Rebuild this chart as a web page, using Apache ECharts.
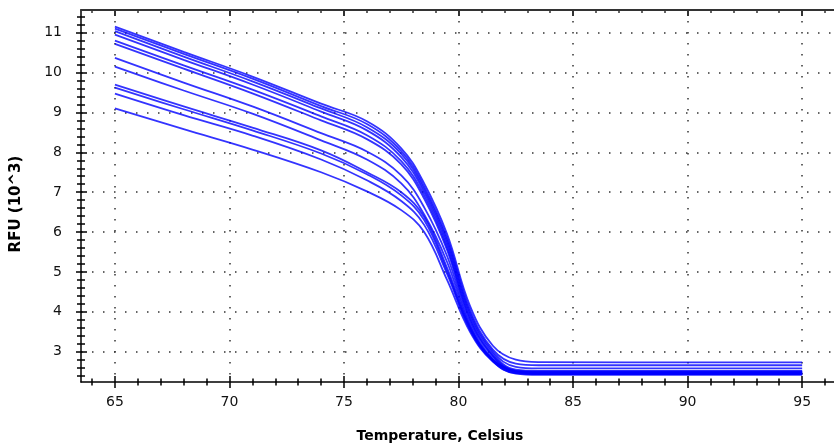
<!DOCTYPE html>
<html>
<head>
<meta charset="utf-8">
<script src="https://cdn.jsdelivr.net/npm/echarts@6/dist/echarts.min.js"></script>
<style>
  html, body { margin: 0; padding: 0; background: #fff; }
  #chart { width: 834px; height: 446px; }
</style>
</head>
<body>
<div id="chart"></div>
<script>
// ---- Data ----
const temps = [65, 68, 71, 74, 76, 77.5, 78.5, 79.5, 80.5, 81.5, 82.5, 83.5, 95];

const curveA = [11.15, 10.52, 9.90, 9.22, 8.78, 8.10, 7.22, 5.95, 4.15, 3.15, 2.80, 2.74, 2.73];
const curveB = [11.10, 10.47, 9.85, 9.16, 8.71, 8.03, 7.14, 5.85, 4.05, 3.05, 2.70, 2.66, 2.66];
const curveC = [11.04, 10.40, 9.78, 9.10, 8.63, 7.96, 7.07, 5.78, 3.98, 3.00, 2.62, 2.58, 2.58];
const curveD = [10.95, 10.32, 9.70, 9.02, 8.55, 7.88, 7.00, 5.70, 3.92, 2.95, 2.55, 2.52, 2.52];
const curveE = [10.80, 10.18, 9.57, 8.90, 8.43, 7.78, 6.92, 5.62, 3.85, 2.90, 2.52, 2.49, 2.49];
const curveF = [10.72, 10.10, 9.48, 8.80, 8.33, 7.70, 6.84, 5.55, 3.80, 2.88, 2.50, 2.47, 2.47];
const curveG = [10.37, 9.75, 9.15, 8.48, 8.02, 7.42, 6.62, 5.40, 3.72, 2.82, 2.50, 2.46, 2.46];
const curveH = [10.15, 9.55, 8.97, 8.30, 7.82, 7.22, 6.44, 5.25, 3.65, 2.78, 2.47, 2.44, 2.44];
const curveI = [9.70, 9.15, 8.62, 8.05, 7.50, 7.00, 6.38, 5.10, 3.62, 2.80, 2.52, 2.50, 2.50];
const curveJ = [9.62, 9.08, 8.55, 7.97, 7.45, 6.92, 6.30, 5.02, 3.58, 2.78, 2.50, 2.48, 2.48];
const curveK = [9.47, 8.93, 8.42, 7.82, 7.30, 6.78, 6.18, 4.95, 3.55, 2.76, 2.46, 2.44, 2.44];
const curveL = [9.10, 8.58, 8.07, 7.50, 7.02, 6.55, 6.00, 4.80, 3.50, 2.75, 2.45, 2.42, 2.42];

const curves = [curveA, curveB, curveC, curveD, curveE, curveF, curveG, curveH, curveI, curveJ, curveK, curveL];

// Tick labels
const xTicks = [65, 70, 75, 80, 85, 90, 95];
const yTicks = [3, 4, 5, 6, 7, 8, 9, 10, 11];

const xTitle = 'Temperature, Celsius';
const yTitle = 'RFU (10^3)';

// Minor tick values (every 1 °C and every 0.2 units)
const xMinor = [];
for (let t = 64; t <= 96; t++) xMinor.push(t);
const yMinor = [];
for (let k = 12; k <= 57; k++) yMinor.push(Math.round(k * 20) / 100);

// ---- Axis ranges ----
const XMIN = 63.52, XMAX = 96.39;
const YMIN = 2.24, YMAX = 11.569;

const tickFont = 'DejaVu Sans';
const dotted = { color: '#333', width: 1.5, type: [1.5, 9.5] };
const black = { color: '#000', width: 1.5 };

function xAx(opts) {
  return Object.assign({
    type: 'value', min: XMIN, max: XMAX, position: 'bottom',
    axisLine: { show: false }, axisLabel: { show: false },
    splitLine: { show: false }, axisTick: { show: false }
  }, opts);
}
function yAx(opts) {
  return Object.assign({
    type: 'value', min: YMIN, max: YMAX, position: 'left',
    axisLine: { show: false }, axisLabel: { show: false },
    splitLine: { show: false }, axisTick: { show: false }
  }, opts);
}

const chart = echarts.init(document.getElementById('chart'), null, { renderer: 'canvas' });

const option = {
  animation: false,
  backgroundColor: '#fff',
  grid: { left: 81, top: 10, right: -2, bottom: 64 },
  xAxis: [
    xAx({
      axisLine: { show: true, onZero: false, lineStyle: black },
      axisTick: { show: true, length: 6, customValues: xTicks, lineStyle: black },
      axisLabel: {
        show: true, margin: 13, customValues: xTicks,
        fontFamily: tickFont, fontSize: 14, color: '#111'
      },
      splitLine: { show: true, lineStyle: dotted }
    }),
    xAx({ axisTick: { show: true, inside: true, length: 6, customValues: xTicks, lineStyle: black } }),
    xAx({ axisTick: { show: true, length: 3.5, customValues: xMinor, lineStyle: black } }),
    xAx({ axisTick: { show: true, inside: true, length: 3.5, customValues: xMinor, lineStyle: black } }),
    xAx({ position: 'top',
      axisLine: { show: true, onZero: false, lineStyle: { color: '#333', width: 2 } },
      axisTick: { show: true, inside: true, length: 3, customValues: xMinor, lineStyle: { color: '#333', width: 1.5 } } }),
    xAx({ position: 'top',
      axisTick: { show: true, inside: true, length: 6, customValues: xTicks, lineStyle: { color: '#333', width: 2 } } })
  ],
  yAxis: [
    yAx({
      axisLine: { show: true, onZero: false, lineStyle: black },
      axisTick: { show: true, length: 5, customValues: yTicks, lineStyle: black },
      axisLabel: {
        show: true, margin: 19, customValues: yTicks,
        fontFamily: tickFont, fontSize: 14, color: '#111'
      },
      splitLine: { show: true, lineStyle: dotted }
    }),
    yAx({ axisTick: { show: true, inside: true, length: 6, customValues: yTicks, lineStyle: black } }),
    yAx({ axisTick: { show: true, length: 4, customValues: yMinor, lineStyle: black } }),
    yAx({ axisTick: { show: true, inside: true, length: 4, customValues: yMinor, lineStyle: black } })
  ],
  graphic: [
    {
      type: 'text', x: 440, y: 436,
      style: {
        text: xTitle, align: 'center', verticalAlign: 'middle',
        font: 'bold 14px "DejaVu Sans", sans-serif', fill: '#000'
      }
    },
    {
      type: 'text', x: 16, y: 204, rotation: Math.PI / 2,
      style: {
        text: yTitle, align: 'center', verticalAlign: 'middle',
        font: 'bold 15px "DejaVu Sans", sans-serif', fill: '#000'
      }
    }
  ],
  series: curves.map((c, k) => ({
    type: 'line',
    name: 'Well ' + (k + 1),
    xAxisIndex: 0, yAxisIndex: 0,
    data: temps.map((t, i) => [t, c[i]]),
    showSymbol: false, symbol: 'none',
    smooth: 0.4,
    lineStyle: { color: '#0000ff', width: 1.8, opacity: 0.8 },
    emphasis: { disabled: true }
  }))
};

chart.setOption(option);
</script>
</body>
</html>
